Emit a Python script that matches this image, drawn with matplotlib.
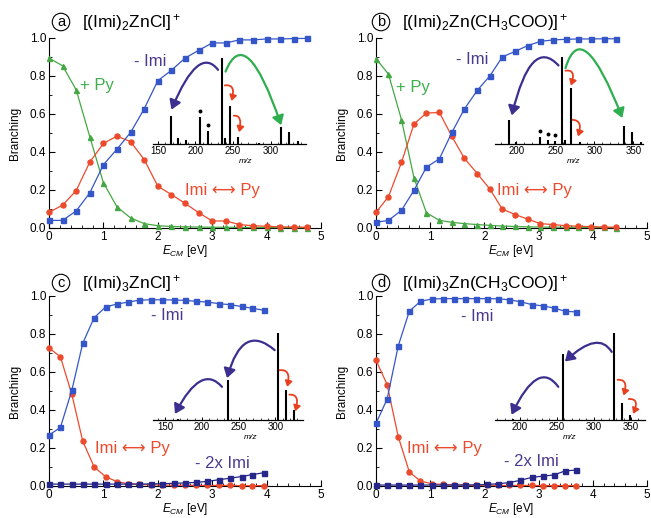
import numpy as np
import matplotlib
matplotlib.use("Agg")
import matplotlib.pyplot as plt
from matplotlib.ticker import MultipleLocator
from matplotlib.patches import FancyArrowPatch
from matplotlib.path import Path

plt.rcParams['font.family'] = ['Liberation Sans', 'DejaVu Sans']
plt.rcParams['mathtext.fontset'] = 'custom'
plt.rcParams['mathtext.rm'] = 'Liberation Sans'
plt.rcParams['mathtext.it'] = 'Liberation Sans:italic'

# ---- branching data ----
a_x = [0, 0.25, 0.5, 0.75, 1.0, 1.25, 1.5, 1.75, 2.0, 2.25, 2.5, 2.75,
       3.0, 3.25, 3.5, 3.75, 4.0, 4.25, 4.5, 4.75]
a_imi = [0.04, 0.04, 0.09, 0.185, 0.333, 0.415, 0.503, 0.627, 0.775, 0.83, 0.894, 0.935,
         0.974, 0.974, 0.99, 0.99, 0.995, 0.995, 0.997, 0.998]
a_exch = [0.083, 0.12, 0.197, 0.347, 0.445, 0.484, 0.454, 0.36, 0.22, 0.176, 0.13, 0.081,
          0.037, 0.037, 0.018, 0.012, 0.009, 0.006, 0.005, 0.004]
a_py = [0.894, 0.854, 0.727, 0.48, 0.238, 0.111, 0.053, 0.023, 0.012, 0.008, 0.006, 0.005,
        0.004, 0.004, 0.003, 0.003, 0.003, 0.002, 0.002, 0.002]

b_x = [0, 0.23, 0.47, 0.70, 0.93, 1.17, 1.40, 1.63, 1.87, 2.10, 2.33, 2.57,
       2.80, 3.03, 3.27, 3.50, 3.73, 3.97, 4.20, 4.43]
b_imi = [0.03, 0.04, 0.093, 0.198, 0.32, 0.364, 0.503, 0.626, 0.725, 0.80, 0.90, 0.93,
         0.96, 0.982, 0.99, 0.993, 0.995, 0.995, 0.996, 0.996]
b_exch = [0.082, 0.165, 0.345, 0.547, 0.605, 0.608, 0.482, 0.367, 0.286, 0.205, 0.10, 0.07,
          0.047, 0.023, 0.018, 0.012, 0.009, 0.007, 0.005, 0.004]
b_py = [0.891, 0.81, 0.57, 0.265, 0.08, 0.04, 0.03, 0.023, 0.018, 0.014, 0.01, 0.008,
        0.006, 0.005, 0.004, 0.004, 0.003, 0.003, 0.003, 0.002]

c_x = [0, 0.21, 0.42, 0.62, 0.83, 1.04, 1.25, 1.46, 1.66, 1.87, 2.08, 2.29,
       2.50, 2.70, 2.91, 3.12, 3.33, 3.54, 3.74, 3.95]
c_imi = [0.268, 0.308, 0.504, 0.751, 0.886, 0.942, 0.958, 0.968, 0.978, 0.98, 0.98, 0.979,
         0.977, 0.972, 0.968, 0.96, 0.954, 0.945, 0.935, 0.925]
c_exch = [0.727, 0.68, 0.482, 0.236, 0.10, 0.049, 0.023, 0.012, 0.008, 0.006, 0.005, 0.004,
          0.004, 0.003, 0.003, 0.003, 0.003, 0.002, 0.002, 0.002]
c_2imi = [0.01, 0.01, 0.01, 0.01, 0.01, 0.01, 0.01, 0.01, 0.01, 0.011, 0.012, 0.014,
          0.016, 0.019, 0.024, 0.033, 0.041, 0.05, 0.06, 0.07]

d_x = [0, 0.205, 0.41, 0.615, 0.82, 1.025, 1.23, 1.435, 1.64, 1.845, 2.05, 2.255,
       2.46, 2.665, 2.87, 3.075, 3.28, 3.485, 3.69]
d_imi = [0.33, 0.457, 0.737, 0.92, 0.972, 0.984, 0.986, 0.986, 0.986, 0.986, 0.986, 0.985,
         0.98, 0.97, 0.955, 0.948, 0.937, 0.92, 0.916]
d_exch = [0.662, 0.534, 0.26, 0.074, 0.026, 0.012, 0.008, 0.006, 0.005, 0.004, 0.004, 0.003,
          0.003, 0.003, 0.003, 0.002, 0.002, 0.002, 0.002]
d_2imi = [0.005, 0.005, 0.005, 0.005, 0.005, 0.005, 0.005, 0.005, 0.005, 0.006, 0.008, 0.012,
          0.018, 0.03, 0.045, 0.052, 0.058, 0.079, 0.084]

# ---- inset mass spectra ----
a_mz = [167, 177, 187, 206, 217, 235, 239, 246, 257, 285, 314, 325, 336]
a_int = [0.33, 0.07, 0.05, 0.32, 0.15, 1.0, 0.07, 0.44, 0.08, 0.02, 0.20, 0.14, 0.04]
a_stars = [206, 217]
b_mz = [191, 200, 230, 240, 250, 259, 263, 270, 281, 338, 349, 360]
b_int = [0.28, 0.03, 0.08, 0.05, 0.04, 1.0, 0.05, 0.64, 0.03, 0.21, 0.14, 0.03]
b_stars = [230, 240, 250]
c_mz = [167, 235, 303, 314, 325]
c_int = [0.01, 0.46, 1.0, 0.34, 0.115]
d_mz = [191, 259, 327, 338, 349]
d_int = [0.01, 0.756, 1.0, 0.20, 0.06]

# curved arrows: (colour, start, control, end) in (m/z, rel. intensity)
PURPLE, GREEN, RED = '#3b2f8f', '#2fae4f', '#e8401f'
a_arrows = [(PURPLE, (230, 0.86), (204, 1.15), (168, 0.40)),
            (GREEN, (240, 0.84), (267, 1.42), (314, 0.22)),
            (RED, (239, 0.68), (254, 0.70), (248, 0.50)),
            (RED, (251, 0.33), (263, 0.34), (258, 0.14))]
b_arrows = [(PURPLE, (254, 0.90), (219, 1.24), (194, 0.33)),
            (GREEN, (263, 0.87), (284, 1.49), (336, 0.30)),
            (RED, (263, 0.84), (277, 0.86), (270, 0.67)),
            (RED, (271, 0.28), (286, 0.28), (279, 0.09))]
c_arrows = [(PURPLE, (299, 0.80), (255, 1.12), (234, 0.48)),
            (PURPLE, (227, 0.38), (199, 0.65), (163, 0.07)),
            (RED, (305, 0.57), (322, 0.59), (316, 0.38)),
            (RED, (319, 0.29), (334, 0.30), (327, 0.10))]
d_arrows = [(PURPLE, (324, 0.78), (306, 1.03), (261, 0.67)),
            (PURPLE, (252, 0.38), (225, 0.70), (189, 0.06)),
            (RED, (332, 0.46), (347, 0.47), (340, 0.28)),
            (RED, (347, 0.24), (362, 0.25), (353, 0.07))]

BLUE = '#3556c8'
REDL = '#ec4a2c'
GREENL = '#45a845'
NAVY = '#27278a'
LABEL_IMI = '#4a3a90'
LABEL_PY = '#3cb04c'
W, H = 651.0, 518.0


def px_box(x0, x1, ybase, ytop):
    return [x0 / W, 1 - ybase / H, (x1 - x0) / W, (ybase - ytop) / H]


def main_axes(box):
    ax = fig.add_axes(box)
    ax.set_xlim(0, 5)
    ax.set_ylim(0, 1.0)
    for s in ['top', 'right']:
        ax.spines[s].set_visible(False)
    ax.xaxis.set_major_locator(MultipleLocator(1))
    ax.xaxis.set_minor_locator(MultipleLocator(0.2))
    ax.yaxis.set_major_locator(MultipleLocator(0.2))
    ax.yaxis.set_minor_locator(MultipleLocator(0.1))
    ax.yaxis.set_major_formatter(matplotlib.ticker.FormatStrFormatter('%.1f'))
    ax.tick_params(which='major', direction='in', length=4, width=0.8, labelsize=8.5, pad=2)
    ax.tick_params(which='minor', direction='in', length=2, width=0.6)
    ax.set_ylabel('Branching', fontsize=8.5, labelpad=6)
    ax.set_xlabel(r'$\mathit{E}_{\mathit{CM}}$ [eV]', fontsize=8.5, labelpad=0)
    return ax


def series(ax, x, y, color, marker):
    ax.plot(x, y, color=color, lw=0.9, marker=marker, ms=3.6, mec=color, mfc=color,
            clip_on=False, zorder=3)


def label(ax, x, y, s, color):
    ax.text(x, y, s, color=color, fontsize=12, ha='center', va='center')


def inset(box, xlim, mz, inten, stars, ticks, arrows, mzlab):
    ax = fig.add_axes(box)
    ax.patch.set_alpha(0)
    ax.set_xlim(*xlim)
    ax.set_ylim(0, 1)
    for s in ['top', 'right', 'left']:
        ax.spines[s].set_visible(False)
    ax.spines['bottom'].set_linewidth(0.9)
    ax.set_yticks([])
    ax.set_xticks(ticks)
    ax.xaxis.set_minor_locator(MultipleLocator(10))
    ax.tick_params(which='major', direction='in', length=2.5, width=0.7, labelsize=7, pad=1.5)
    ax.tick_params(which='minor', direction='in', length=1.5, width=0.5)
    ax.vlines(mz, 0, inten, color='k', lw=1.5, clip_on=False)
    for s in stars:
        h = inten[mz.index(s)]
        ax.plot(s, h + 0.07, 'o', color='k', ms=1.8, clip_on=False)
    for col, p0, pc, p1 in arrows:
        small = col == RED
        path = Path([p0, pc, p1], [Path.MOVETO, Path.CURVE3, Path.CURVE3])
        arr = FancyArrowPatch(path=path, arrowstyle='-|>,head_length=0.55,head_width=0.35',
                              mutation_scale=6 if small else 10, color=col,
                              lw=1.3 if small else 1.6, clip_on=False,
                              transform=ax.transData)
        ax.add_patch(arr)
    ax.annotate('m/z', xy=(mzlab, 0), xytext=(0, -12.5), textcoords='offset points',
                ha='center', va='center', fontsize=6, style='italic')
    return ax


def header(xc, xt, y, letter, title):
    fig.text(xc / W, 1 - y / H, letter, ha='center', va='center', fontsize=10.5,
             bbox=dict(boxstyle='circle,pad=0.12', fc='white', ec='k', lw=0.8))
    fig.text(xt / W, 1 - y / H, title, ha='left', va='center', fontsize=12.5)


EXCH = 'Imi \u27F7 Py'

fig = plt.figure(figsize=(6.51, 5.18), dpi=100)

# panel a
ax = main_axes(px_box(49, 321, 228, 38))
series(ax, a_x, a_py, GREENL, '^')
series(ax, a_x, a_exch, REDL, 'o')
series(ax, a_x, a_imi, BLUE, 's')
label(ax, 1.86, 0.875, '- Imi', LABEL_IMI)
label(ax, 0.88, 0.75, '+ Py', LABEL_PY)
label(ax, 3.18, 0.20, EXCH, REDL)
header(61, 82, 22, 'a', r'[(Imi)$_2$ZnCl]$^+$')
inset(px_box(153, 306, 144.3, 57.7), (143.5, 347), a_mz, a_int, a_stars,
      [150, 200, 250, 300], a_arrows, 267)

# panel b
ax = main_axes(px_box(376, 647, 228, 38))
series(ax, b_x, b_py, GREENL, '^')
series(ax, b_x, b_exch, REDL, 'o')
series(ax, b_x, b_imi, BLUE, 's')
label(ax, 1.77, 0.885, '- Imi', LABEL_IMI)
label(ax, 0.69, 0.74, '+ Py', LABEL_PY)
label(ax, 2.92, 0.20, EXCH, REDL)
header(381, 402, 22, 'b', r'[(Imi)$_2$Zn(CH$_3$COO)]$^+$')
inset(px_box(495, 643, 144.3, 56.7), (172.5, 362.5), b_mz, b_int, b_stars,
      [200, 250, 300, 350], b_arrows, 273)

# panel c
ax = main_axes(px_box(49, 321, 486, 296))
series(ax, c_x, c_exch, REDL, 'o')
series(ax, c_x, c_2imi, NAVY, 's')
series(ax, c_x, c_imi, BLUE, 's')
label(ax, 2.17, 0.90, '- Imi', LABEL_IMI)
label(ax, 1.53, 0.20, EXCH, REDL)
label(ax, 3.18, 0.12, '- 2x Imi', LABEL_IMI)
header(61, 82, 283, 'c', r'[(Imi)$_3$ZnCl]$^+$')
inset(px_box(153, 303, 420, 332.7), (133, 337.6), c_mz, c_int, [],
      [150, 200, 250, 300], c_arrows, 266)

# panel d
ax = main_axes(px_box(376, 647, 486, 296))
series(ax, d_x, d_exch, REDL, 'o')
series(ax, d_x, d_2imi, NAVY, 's')
series(ax, d_x, d_imi, BLUE, 's')
label(ax, 1.86, 0.89, '- Imi', LABEL_IMI)
label(ax, 1.26, 0.20, EXCH, REDL)
label(ax, 2.87, 0.13, '- 2x Imi', LABEL_IMI)
header(381, 402, 283, 'd', r'[(Imi)$_3$Zn(CH$_3$COO)]$^+$')
inset(px_box(495, 645, 420, 332.7), (166.7, 368.9), d_mz, d_int, [],
      [200, 250, 300, 350], d_arrows, 267)

fig.savefig('out.png', dpi=100)
